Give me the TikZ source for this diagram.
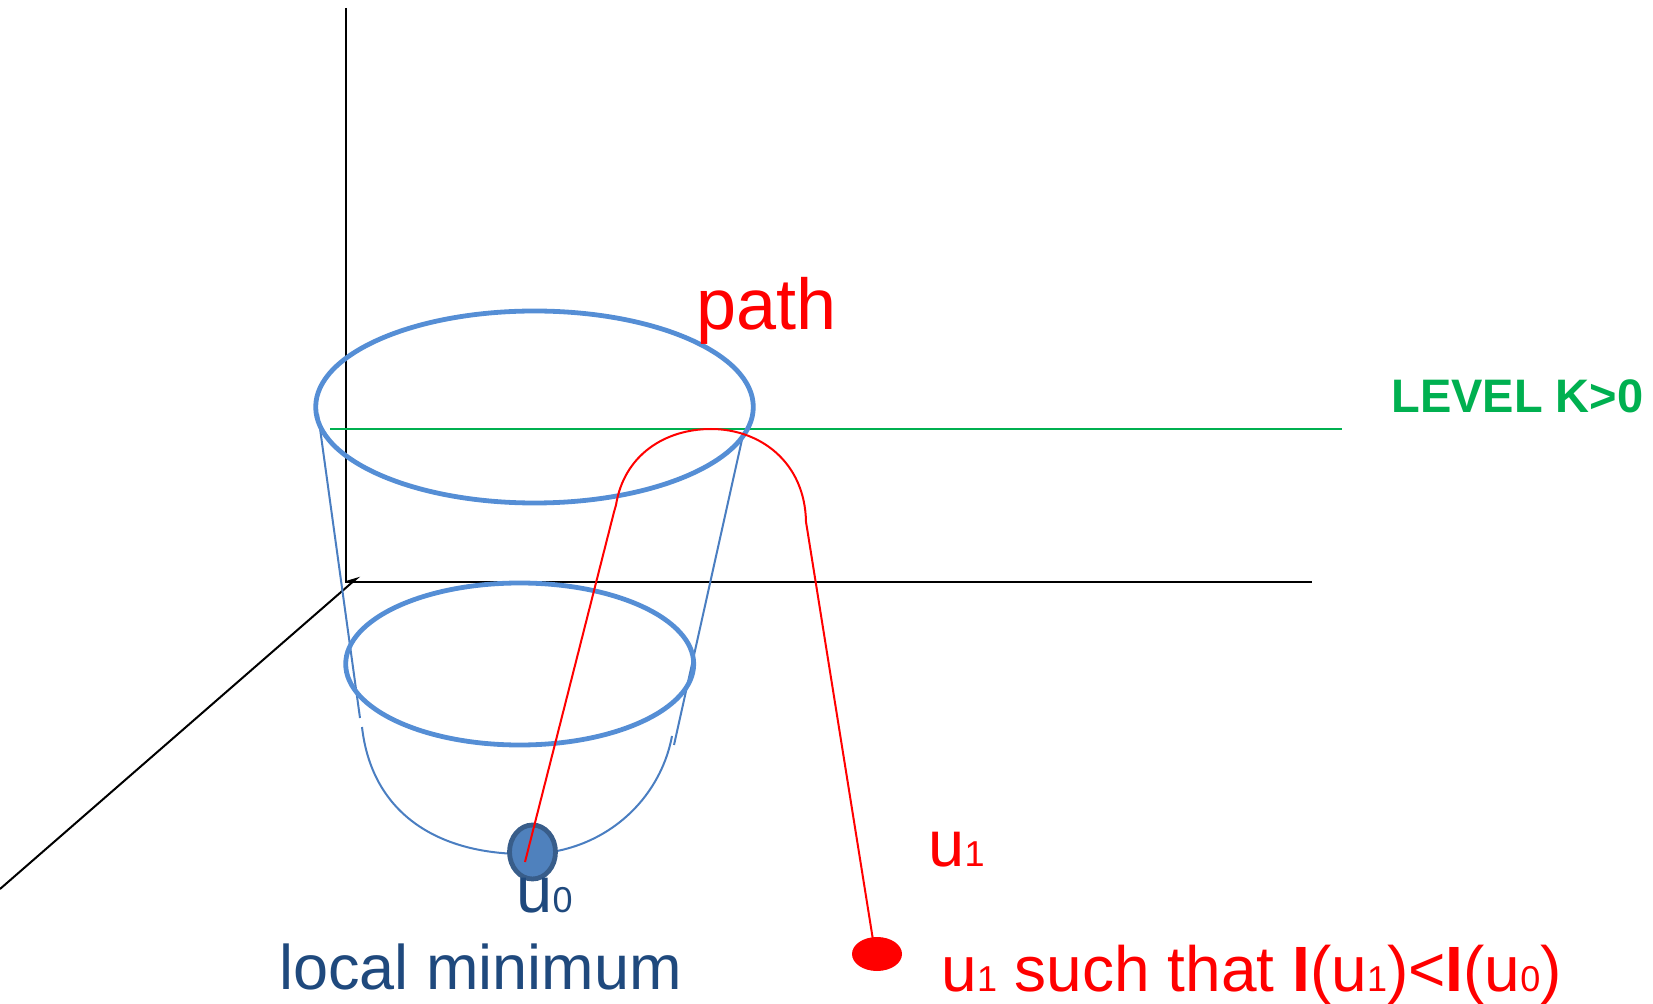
\documentclass[tikz,border=0pt]{standalone}
\usepackage{fontspec}
\setmainfont{Liberation Sans}
\usetikzlibrary{shapes.geometric}
\definecolor{bowl}{RGB}{85,142,213}
\definecolor{cone}{RGB}{74,126,193}
\definecolor{dotfill}{RGB}{79,129,189}
\definecolor{dotdraw}{RGB}{56,93,138}
\definecolor{darkblue}{RGB}{31,73,125}
\definecolor{levelgreen}{RGB}{0,176,80}
\newcommand\sbs[1]{{\fontsize{18}{18}\selectfont #1}}
\begin{document}
\begin{tikzpicture}[x=0.5pt,y=-0.5pt,
  axisline/.style={black,line width=1pt},
  rim/.style={bowl,line width=2.4pt},
  coneline/.style={cone,line width=1pt},
  redline/.style={red,line width=1pt,line join=round},
  txt/.style={anchor=base west,inner sep=0pt}]
\useasboundingbox (0,0) rectangle (1653,1004);
% axes
\coordinate (o) at (346,582);
\coordinate (ztop) at (346,8);
\coordinate (xend) at (1312,582);
\coordinate (dstart) at (356,579);
\coordinate (dend) at (0,889);
\draw[axisline] (ztop) -- (o) -- (xend);
\draw[axisline] (o) -- (dstart) -- (dend);
% level line
\coordinate (g1) at (330,429);
\coordinate (g2) at (1342,429);
\draw[levelgreen,line width=1.2pt] (g1) -- (g2);
\node[txt,font=\fontsize{23.5}{24}\selectfont\bfseries,text=levelgreen] (level) at (1391,413) {LEVEL K>0};
% cone lines
\coordinate (cl1) at (318,414);
\coordinate (cl2) at (360,718);
\coordinate (cr1) at (743,435);
\coordinate (cr2) at (674,745);
\draw[coneline] (cl1) -- (cl2);
\draw[coneline] (cr1) -- (cr2);
% bowl bottom
\coordinate (bl) at (362,727);
\coordinate (bb) at (532,854);
\coordinate (br) at (672,736);
\draw[coneline] (bl) .. controls (372,815) and (440,856) .. (bb) .. controls (605,851) and (660,800) .. (br);
% ellipses
\draw[rim] (519.7,664) ellipse [x radius=87pt, y radius=40.5pt];
\draw[rim] (534.5,407) ellipse [x radius=109.4pt, y radius=48pt];
% minimum point
\node[ellipse,draw=dotdraw,fill=dotfill,line width=2.4pt,minimum width=23pt,minimum height=27pt,inner sep=0pt] (u0) at (532.5,852) {};
\node[ellipse,fill=red,minimum width=25pt,minimum height=17pt,inner sep=0pt] (u1) at (877,954) {};
% red path
\coordinate (p0) at (525,862);
\coordinate (p1) at (614,512);
\coordinate (p2) at (616,505);
\coordinate (ptop) at (711,429);
\coordinate (p3) at (806,522);
\coordinate (p4) at (807,528);
\coordinate (p5) at (873,940);
\draw[redline] (p0) -- (p1) -- (p2) .. controls (624,455) and (665,429) .. (ptop) .. controls (760,429) and (805,462) .. (p3) -- (p4) -- (p5);
% texts
\node[txt,font=\fontsize{36}{37}\selectfont,text=red] (path) at (696,330) {path};
\node[txt,font=\fontsize{32.5}{33}\selectfont,text=darkblue] (u0lab) at (516,912) {u\sbs{0}};
\node[txt,font=\fontsize{31.5}{32}\selectfont,text=darkblue] (locmin) at (279,989) {local minimum};
\node[txt,font=\fontsize{32.5}{33}\selectfont,text=red] (u1lab) at (928,866) {u\sbs{1}};
\node[txt,font=\fontsize{32}{33}\selectfont,text=red] (cond) at (941,991) {u\sbs{1} such that \textbf{I}(u\sbs{1})<\textbf{I}(u\sbs{0})};
\end{tikzpicture}
\end{document}
